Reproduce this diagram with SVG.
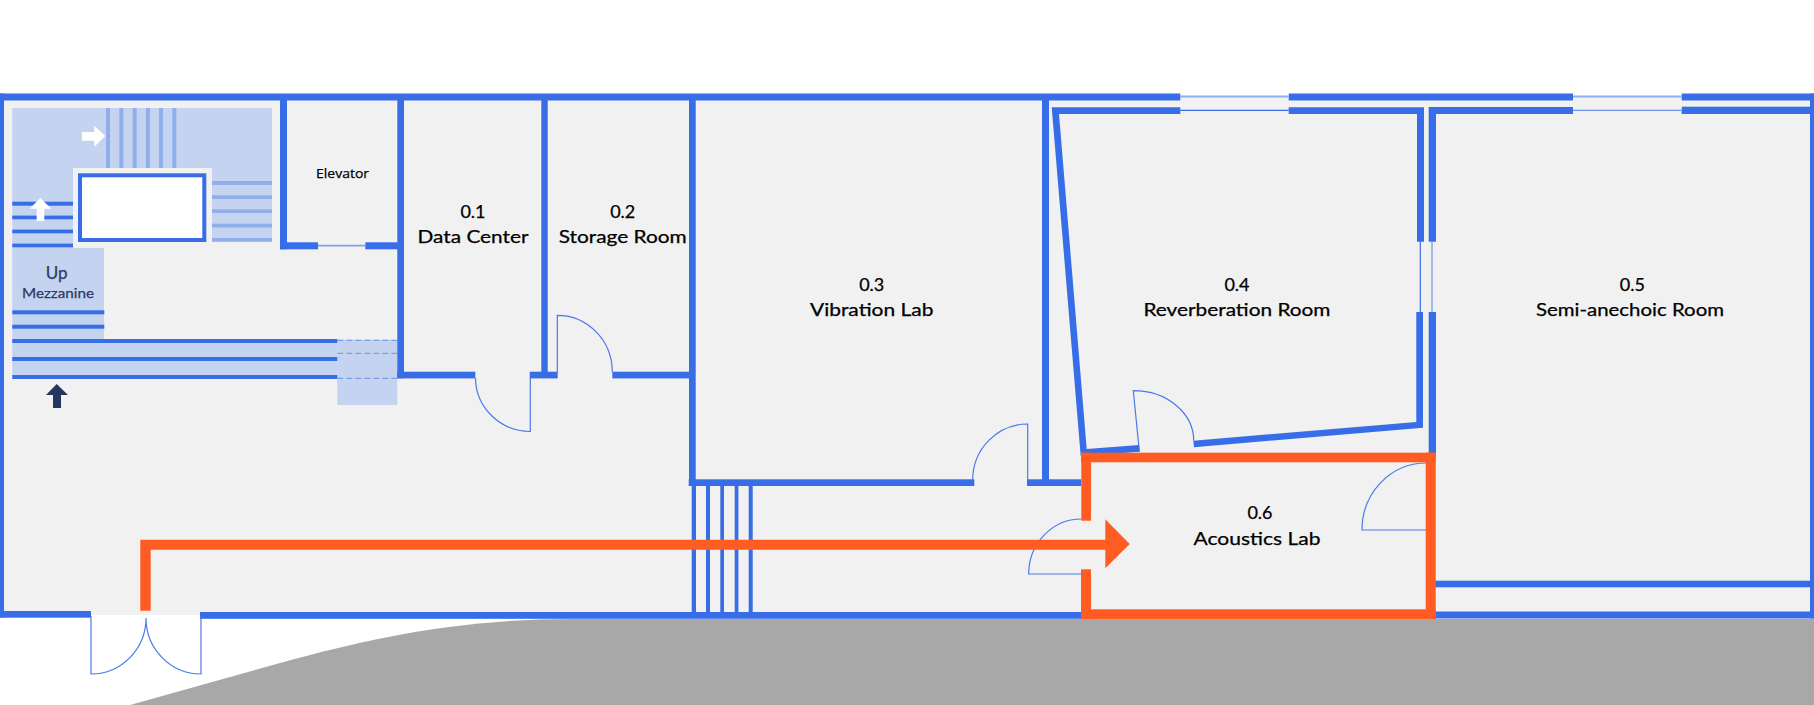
<svg xmlns="http://www.w3.org/2000/svg" width="1814" height="705" viewBox="0 0 1814 705">
<style>
.w{fill:#376de7}
.s{fill:#c4d3f0}
.l{fill:#8fafec}
.o{fill:#ff5b23}
.d{fill:none;stroke:#4a7ae8;stroke-width:1.2}
.t{stroke:#376de7;stroke-width:1.2;fill:none}
.t2{stroke:#8fafec;stroke-width:2;fill:none}
.h{stroke:#6d93e8;stroke-width:1;stroke-dasharray:6 3;fill:none}
text{font-family:"Lato","Noto Sans",sans-serif;fill:#000;stroke:#000;stroke-width:.25;text-anchor:middle;font-size:18px}
</style>
<rect width="1814" height="705" fill="#fff"/>
<g id="ground"><path d="M130 705L280 663C370 638 460 619 570 619H1814V705Z" fill="#a8a8a8"/></g>
<g id="floor"><rect x="0" y="97" width="1814" height="518" fill="#f1f1f1"/><rect x="0" y="615" width="91" height="2" fill="#f1f1f1"/></g>
<g id="stairs">
<rect class="s" x="12.3" y="108" width="259.7" height="134"/>
<rect class="s" x="12.3" y="240" width="60.7" height="8"/>
<rect class="s" x="12.3" y="248" width="91.7" height="91"/>
<rect class="s" x="12.3" y="339" width="325" height="40"/>
<rect class="s" x="337.3" y="339.7" width="60" height="65.3"/>
<rect x="73" y="168" width="139" height="80" fill="#f1f1f1"/>
<rect x="80" y="175.3" width="124.3" height="64.7" fill="#fff" stroke="#376de7" stroke-width="4"/>
<g class="l">
<rect x="106" y="108" width="4" height="60"/><rect x="119.3" y="108" width="4" height="60"/><rect x="132.7" y="108" width="4" height="60"/><rect x="145.9" y="108" width="4" height="60"/><rect x="159" y="108" width="4" height="60"/><rect x="172.3" y="108" width="4" height="60"/>
<rect x="212" y="181" width="60" height="4"/><rect x="212" y="195.3" width="60" height="3.7"/><rect x="212" y="209.3" width="60" height="3.7"/><rect x="212" y="223.7" width="60" height="3.7"/><rect x="212" y="238" width="60" height="3.7"/>
</g>
<g class="w">
<rect x="12.3" y="201.7" width="60.7" height="4"/><rect x="12.3" y="215.6" width="60.7" height="3.7"/><rect x="12.3" y="229.6" width="60.7" height="3.7"/><rect x="12.3" y="243.6" width="60.7" height="3.7"/>
<rect x="12.3" y="310.3" width="92" height="4"/><rect x="12.3" y="324.7" width="92" height="4"/>
<rect x="12.3" y="339" width="325" height="4"/><rect x="12.3" y="357" width="325" height="4"/><rect x="12.3" y="375" width="325" height="4"/>
</g>
<path class="h" d="M337.3 340.3H397M337.3 353.3H397M337.3 378.3H397"/>
<path d="M82 132H94.3V125.7L105.3 136L94.3 146.7V140.7H82Z" fill="#fff"/>
<path d="M40.3 198L51.3 208.7H44.3V221H36.7V208.7H29.7Z" fill="#fff"/>
<path d="M56.7 384L68 395H61V408H53V395H46Z" fill="#24365f"/>
<text x="56.7" y="279" style="font-size:17px;fill:#2a3a64;stroke:#2a3a64">Up</text>
<text x="58" y="298" textLength="72" lengthAdjust="spacingAndGlyphs" style="font-size:14px;fill:#2a3a64;stroke:#2a3a64">Mezzanine</text>
</g>
<g id="walls" class="w">
<rect x="0" y="93.5" width="1180.3" height="7"/><rect x="1288.7" y="93.5" width="284.3" height="7"/><rect x="1681.7" y="93.5" width="132.3" height="7"/>
<rect x="0" y="93.5" width="4" height="524"/>
<rect x="1810" y="93.5" width="4" height="525"/>
<rect x="0" y="611" width="91" height="6.7"/>
<rect x="200" y="612" width="881" height="6.8"/>
<rect x="1435" y="611.5" width="379" height="7"/>
<rect x="1435" y="580.7" width="375" height="6.6"/>
<rect x="280" y="100" width="7" height="149.3"/><rect x="280" y="242.3" width="38" height="7"/><rect x="365.3" y="242.3" width="38" height="7"/>
<rect x="397.3" y="100" width="6.7" height="278.3"/><rect x="397.3" y="371.7" width="78" height="6.7"/>
<rect x="529.7" y="371.7" width="28" height="6.7"/><rect x="541.3" y="100" width="6.4" height="278"/>
<rect x="612.3" y="371.7" width="77" height="6.7"/><rect x="689" y="100" width="6.7" height="386"/>
<rect x="688.7" y="479.3" width="285.6" height="6.7"/>
<rect x="1027" y="479.3" width="54.3" height="6.7"/><rect x="1042" y="100" width="7" height="380"/>
<rect x="691.7" y="486" width="4.3" height="126.7"/><rect x="706" y="486" width="4" height="126.7"/><rect x="720.3" y="486" width="3.7" height="126.7"/><rect x="734.7" y="486" width="3.7" height="126.7"/><rect x="748.7" y="486" width="4" height="126.7"/>
<path d="M1051.7 107.3H1180.3V114H1059L1086.7 449L1139.3 445L1140 451.7L1080.7 456Z"/>
<path d="M1288.7 107.3H1424V241.7H1417V114H1288.7Z"/>
<path d="M1416.3 312H1423V427.7L1194 447.3L1193.3 440.7L1416.3 422Z"/>
<path d="M1428.7 107H1573V114H1436V241.7H1428.7Z"/>
<rect x="1681.7" y="106.7" width="132.3" height="7.3"/>
<rect x="1428.7" y="312" width="7.3" height="141"/>
</g>
<g id="openings">
<path class="t2" d="M1180.3 96.5H1288.7M1573 96.5H1681.7"/>
<path class="t" d="M1180.3 110.3H1288.7"/>
<path class="t" d="M1573 110.3H1681.7" style="stroke:#6d93e8"/>
<path class="t" d="M1420.3 241.7V312"/>
<path class="t" d="M1432 241.7V312" style="stroke:#6d93e8"/>
<path class="t" d="M318 245.7H365.3" style="stroke:#7fa3ec;stroke-width:1.8"/>
<path class="d" d="M91 616V674A55 56 0 0 0 146 618A55 56 0 0 0 201 674V616"/>
<path class="d" d="M475.5 378A55 54 0 0 0 530.3 431.5V378"/>
<path class="d" d="M557.3 372V315.3A55 56.7 0 0 1 612.3 372"/>
<path class="d" d="M1027.7 480V424A55 56 0 0 0 972.7 480"/>
<path class="d" d="M1081.3 519A52.6 55 0 0 0 1028.7 574H1081.3"/>
<path class="d" d="M1426 463A64 67 0 0 0 1362 530H1426"/>
<path class="d" d="M1138.7 445L1133.3 390.7A60 50 0 0 1 1193.7 440.7"/>
</g>
<g id="route" class="o">
<rect x="1081" y="452.7" width="354.7" height="9.6"/>
<rect x="1425.7" y="452.7" width="10" height="166.3"/>
<rect x="1081" y="609.3" width="354.7" height="9.7"/>
<rect x="1081.3" y="452.7" width="9.7" height="68"/>
<rect x="1081" y="569.3" width="10" height="49.7"/>
<path d="M140.3 610.7V539.7H1105.3V519.3L1129.7 544L1105.3 568.3V549.7H150.7V610.7Z"/>
</g>
<g id="labels">
<text x="473" y="218.3">0.1</text><text x="473" y="243.3" textLength="111" lengthAdjust="spacingAndGlyphs">Data Center</text>
<text x="622.7" y="218.3">0.2</text><text x="622.7" y="243.3" textLength="128" lengthAdjust="spacingAndGlyphs">Storage Room</text>
<text x="871.7" y="290.5">0.3</text><text x="871.7" y="315.5" textLength="123.5" lengthAdjust="spacingAndGlyphs">Vibration Lab</text>
<text x="1237" y="290.5">0.4</text><text x="1237" y="315.5" textLength="187" lengthAdjust="spacingAndGlyphs">Reverberation Room</text>
<text x="1632.3" y="290.5">0.5</text><text x="1630" y="315.5" textLength="188" lengthAdjust="spacingAndGlyphs">Semi-anechoic Room</text>
<text x="1260" y="519.3">0.6</text><text x="1257" y="544.5" textLength="127" lengthAdjust="spacingAndGlyphs">Acoustics Lab</text>
<text x="342.5" y="178" textLength="53" lengthAdjust="spacingAndGlyphs" style="font-family:'Open Sans',sans-serif;font-size:13.5px">Elevator</text>
</g>
</svg>
